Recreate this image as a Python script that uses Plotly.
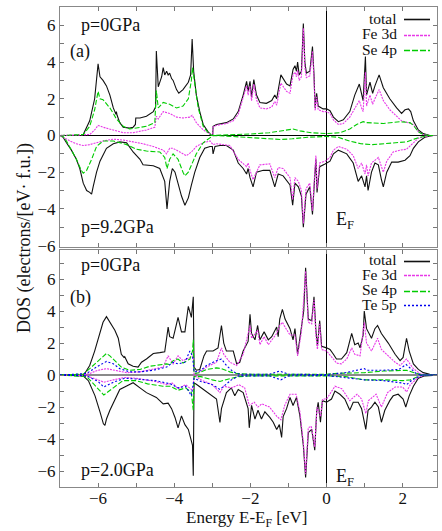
import plotly.graph_objects as go

# ---------------- data: (energy eV, DOS) pairs ----------------
# Panel (a)  p=0GPa (up) / p=9.2GPa (down)
a_total_up = [(-7.0,0),(-6.44,0),(-6.39,0.05),(-6.22,0.8),(-6.09,2.0),(-6.02,3.4),(-6.0,3.9),(-5.95,3.2),(-5.87,3.0),
    (-5.78,2.7),(-5.69,2.2),(-5.6,1.5),(-5.53,1.15),(-5.52,1.3),(-5.5,1.1),(-5.43,0.7),(-5.34,0.45),(-5.17,0.4),(-5.08,0.45),
    (-5.02,0.6),(-5.01,0.95),(-4.9,0.95),(-4.73,1.05),(-4.55,1.3),(-4.49,1.55),(-4.47,4.6),(-4.42,2.65),(-4.33,3.2),(-4.29,3.7),
    (-4.25,3.3),(-4.2,3.5),(-4.16,3.3),(-4.12,3.4),(-4.07,3.1),(-4.03,3.0),(-3.94,2.5),(-3.88,2.3),(-3.77,2.5),(-3.63,2.9),
    (-3.57,3.3),(-3.53,5.25),(-3.49,3.5),(-3.42,2.2),(-3.33,1.3),(-3.24,0.6),(-3.11,0.2),(-3.02,0.0),(-2.99,0.0),(-2.98,0.5),
    (-2.89,0.6),(-2.63,0.7),(-2.45,0.9),(-2.32,1.3),(-2.19,2.2),(-2.1,2.95),(-2.06,2.4),(-2.01,2.95),(-1.97,2.1),(-1.91,3.05),
    (-1.84,2.2),(-1.75,1.8),(-1.58,1.75),(-1.44,1.9),(-1.36,2.2),(-1.31,2.0),(-1.2,3.3),(-1.05,2.8),(-0.96,2.7),(-0.88,3.6),
    (-0.83,3.8),(-0.79,3.5),(-0.76,4.0),(-0.72,3.3),(-0.66,3.5),(-0.61,6.1),(-0.57,4.0),(-0.53,3.4),(-0.44,3.5),(-0.37,4.85),
    (-0.33,3.3),(-0.3,1.5),(-0.26,2.3),(-0.22,1.6),(-0.09,1.45),(0.0,1.45),(0.09,1.35),(0.18,1.0),(0.31,0.75),(0.44,0.85),
    (0.61,1.3),(0.74,2.2),(0.86,2.8),(0.92,2.2),(0.96,1.9),(1.02,4.3),(1.05,2.2),(1.14,2.9),(1.21,2.3),(1.27,2.7),(1.38,3.3),
    (1.49,2.6),(1.66,2.0),(1.84,1.5),(1.97,1.2),(2.06,1.4),(2.15,1.45),(2.21,1.3),(2.28,0.8),(2.41,0.3),(2.54,0.1),(2.71,0.0),(3.0,0.0)]
a_fe_up = [(-7.0,0),(-6.39,0.05),(-6.22,0.05),(-6.09,0.3),(-6.0,0.55),(-5.87,0.45),(-5.69,0.35),(-5.52,0.25),(-5.34,0.15),
    (-5.08,0.15),(-4.73,0.3),(-4.51,0.45),(-4.47,1.05),(-4.42,0.9),(-4.29,1.3),(-4.12,1.2),(-3.94,1.0),(-3.77,0.95),(-3.59,1.0),
    (-3.53,1.1),(-3.42,0.7),(-3.24,0.3),(-3.06,0.05),(-2.99,0.0),(-2.98,0.45),(-2.89,0.55),(-2.63,0.65),(-2.45,0.8),(-2.32,1.15),
    (-2.19,2.0),(-2.1,2.7),(-2.06,2.2),(-2.01,2.7),(-1.97,1.9),(-1.91,2.8),(-1.84,1.95),(-1.75,1.5),(-1.58,1.45),(-1.44,1.55),
    (-1.36,1.85),(-1.31,1.65),(-1.2,2.85),(-1.05,2.4),(-0.96,2.3),(-0.88,3.3),(-0.83,3.45),(-0.79,3.2),(-0.76,3.55),(-0.72,3.0),
    (-0.66,3.2),(-0.61,5.85),(-0.57,3.7),(-0.53,3.15),(-0.44,3.25),(-0.37,4.6),(-0.33,3.1),(-0.3,1.35),(-0.26,2.1),(-0.22,1.4),
    (-0.09,1.3),(0.0,1.3),(0.09,1.2),(0.18,0.85),(0.31,0.6),(0.44,0.65),(0.61,1.0),(0.74,1.5),(0.86,1.9),(0.92,1.5),(0.96,1.3),
    (1.02,3.45),(1.05,1.6),(1.14,2.2),(1.21,1.7),(1.27,2.0),(1.38,2.5),(1.49,1.9),(1.66,1.4),(1.84,1.05),(1.97,0.8),(2.06,0.75),
    (2.15,0.7),(2.28,0.6),(2.41,0.2),(2.54,0.05),(2.71,0.0),(3.0,0.0)]
a_se_up = [(-7.0,0),(-6.39,0.05),(-6.22,0.5),(-6.09,1.4),(-6.0,2.4),(-5.95,2.0),(-5.87,1.95),(-5.78,1.75),(-5.69,1.5),(-5.6,1.2),
    (-5.52,0.9),(-5.43,0.7),(-5.34,0.5),(-5.17,0.35),(-4.99,0.4),(-4.73,0.5),(-4.51,0.7),(-4.47,2.45),(-4.42,1.5),(-4.29,1.8),
    (-4.12,1.7),(-3.94,1.5),(-3.77,1.6),(-3.63,2.0),(-3.55,3.0),(-3.52,3.7),(-3.46,2.8),(-3.37,1.5),(-3.24,0.5),(-3.11,0.15),
    (-3.02,0.0),(-2.5,0.03),(-2.0,0.08),(-1.5,0.15),(-1.14,0.25),(-0.88,0.35),(-0.7,0.25),(-0.4,0.15),(0.0,0.1),(0.35,0.15),
    (0.61,0.35),(0.79,0.6),(0.96,0.75),(1.05,0.7),(1.49,0.65),(1.75,0.7),(1.93,0.75),(2.19,0.7),(2.28,0.55),(2.41,0.2),(2.54,0.05),
    (2.71,0.0),(3.0,0.0)]
a_total_dn = [(-7.0,0),(-6.92,-0.1),(-6.83,-0.4),(-6.7,-0.8),(-6.57,-1.3),(-6.48,-1.8),(-6.39,-2.6),(-6.3,-3.0),(-6.22,-3.1),
    (-6.17,-3.2),(-6.13,-2.8),(-6.04,-2.0),(-5.95,-1.4),(-5.78,-0.7),(-5.6,-0.45),(-5.43,-0.35),(-5.25,-0.4),(-5.08,-0.9),(-4.9,-1.3),
    (-4.82,-1.6),(-4.55,-1.65),(-4.38,-1.8),(-4.25,-2.5),(-4.19,-4.0),(-4.12,-2.5),(-4.05,-1.8),(-3.98,-2.0),(-3.9,-2.6),(-3.81,-3.3),
    (-3.72,-3.8),(-3.63,-3.4),(-3.55,-2.7),(-3.46,-2.0),(-3.33,-1.2),(-3.2,-0.7),(-3.06,-0.6),(-3.0,-0.6),(-2.98,-1.0),(-2.93,-0.6),
    (-2.8,-0.55),(-2.63,-0.55),(-2.45,-0.8),(-2.32,-1.5),(-2.19,-1.8),(-2.1,-2.1),(-2.06,-1.8),(-2.01,-2.3),(-1.93,-2.8),(-1.84,-2.0),
    (-1.66,-1.9),(-1.49,-1.9),(-1.36,-2.8),(-1.27,-2.1),(-1.14,-2.2),(-0.96,-2.7),(-0.89,-3.8),(-0.83,-2.6),(-0.74,-2.8),(-0.66,-3.3),
    (-0.61,-5.0),(-0.54,-3.2),(-0.44,-2.8),(-0.37,-4.3),(-0.31,-2.2),(-0.28,-1.3),(-0.25,-3.1),(-0.18,-1.7),(-0.04,-1.55),(0.09,-1.4),
    (0.18,-1.0),(0.31,-0.8),(0.53,-1.0),(0.7,-1.5),(0.83,-2.5),(0.92,-2.2),(1.01,-2.8),(1.05,-2.2),(1.09,-3.0),(1.18,-2.0),(1.27,-1.5),
    (1.36,-1.6),(1.44,-2.4),(1.49,-2.8),(1.58,-2.0),(1.71,-1.45),(1.88,-1.45),(2.06,-1.35),(2.19,-1.1),(2.28,-0.7),(2.41,-0.35),
    (2.58,-0.1),(2.8,0.0),(3.0,0.0)]
a_fe_dn = [(-7.0,0),(-6.92,-0.1),(-6.74,-0.3),(-6.57,-0.45),(-6.39,-0.55),(-6.22,-0.5),(-6.04,-0.4),(-5.87,-0.3),(-5.6,-0.2),
    (-5.34,-0.25),(-5.08,-0.35),(-4.82,-0.45),(-4.55,-0.6),(-4.29,-0.8),(-4.2,-1.0),(-4.12,-0.7),(-4.03,-0.7),(-3.85,-0.9),(-3.68,-1.1),
    (-3.55,-0.9),(-3.42,-0.6),(-3.24,-0.4),(-3.06,-0.3),(-2.98,-0.5),(-2.89,-0.45),(-2.54,-0.55),(-2.32,-1.3),(-2.1,-1.7),(-2.06,-1.5),
    (-2.01,-1.9),(-1.93,-2.4),(-1.75,-1.6),(-1.49,-1.55),(-1.36,-2.3),(-1.27,-1.75),(-1.14,-1.8),(-0.96,-2.3),(-0.89,-3.5),(-0.83,-2.3),
    (-0.74,-2.5),(-0.66,-3.0),(-0.61,-4.8),(-0.54,-2.9),(-0.44,-2.6),(-0.37,-4.1),(-0.31,-2.0),(-0.28,-1.1),(-0.25,-2.9),(-0.18,-1.5),
    (-0.04,-1.4),(0.09,-1.2),(0.18,-0.8),(0.31,-0.6),(0.53,-0.75),(0.7,-1.1),(0.83,-1.8),(0.92,-1.5),(1.01,-2.1),(1.05,-1.6),(1.09,-2.2),
    (1.18,-1.5),(1.36,-1.2),(1.49,-2.0),(1.58,-1.4),(1.75,-0.9),(1.93,-0.8),(2.1,-0.75),(2.28,-0.4),(2.41,-0.15),(2.58,-0.05),(2.8,0.0),(3.0,0.0)]
a_se_dn = [(-7.0,0),(-6.92,-0.05),(-6.83,-0.3),(-6.7,-0.8),(-6.57,-1.3),(-6.44,-1.9),(-6.39,-2.05),(-6.3,-1.9),(-6.17,-1.3),
    (-6.04,-0.6),(-5.87,-0.3),(-5.6,-0.3),(-5.25,-0.5),(-4.99,-0.75),(-4.73,-0.85),(-4.38,-0.9),(-4.25,-1.2),(-4.19,-1.8),(-4.12,-1.3),
    (-4.03,-1.0),(-3.9,-1.3),(-3.77,-2.0),(-3.72,-2.2),(-3.63,-2.0),(-3.55,-1.6),(-3.42,-1.0),(-3.24,-0.4),(-3.06,-0.1),(-2.98,0.0),
    (-2.5,-0.05),(-2.0,-0.12),(-1.5,-0.2),(-1.2,-0.22),(-0.9,-0.18),(-0.5,-0.1),(0.0,-0.05),(0.3,-0.1),(0.6,-0.3),(0.9,-0.45),
    (1.2,-0.5),(1.5,-0.45),(1.8,-0.4),(2.1,-0.35),(2.3,-0.2),(2.45,-0.1),(2.7,0.0),(3.0,0.0)]

# Panel (b)  p=0GPa (up) / p=2.0GPa (down)
b_total_up = [(-7.0,0),(-6.39,0.0),(-6.35,0.1),(-6.22,0.6),(-6.09,1.5),(-5.95,2.6),(-5.87,3.3),(-5.78,3.65),(-5.69,3.3),(-5.56,2.8),
    (-5.47,2.3),(-5.39,1.3),(-5.32,1.1),(-5.3,1.15),(-5.21,0.7),(-5.08,0.55),(-4.95,0.5),(-4.86,0.8),(-4.73,1.0),(-4.55,1.35),
    (-4.38,1.4),(-4.25,1.45),(-4.2,2.3),(-4.16,3.0),(-4.12,2.4),(-4.03,2.3),(-3.98,2.8),(-3.9,3.6),(-3.81,2.7),(-3.72,2.7),(-3.63,4.3),
    (-3.55,3.6),(-3.5,4.9),(-3.48,0.5),(-3.42,0.3),(-3.33,0.35),(-3.22,1.2),(-3.15,1.5),(-2.98,1.5),(-2.85,1.7),(-2.76,3.1),(-2.7,2.0),
    (-2.63,1.5),(-2.45,1.5),(-2.36,0.7),(-2.28,0.8),(-2.19,1.5),(-2.06,2.1),(-2.01,3.8),(-1.97,2.6),(-1.88,2.2),(-1.81,3.1),(-1.75,2.2),
    (-1.64,2.7),(-1.53,2.2),(-1.44,2.4),(-1.31,3.0),(-1.27,2.4),(-1.23,3.5),(-1.16,4.1),(-1.09,3.5),(-0.96,2.9),(-0.88,2.2),(-0.83,2.9),
    (-0.76,1.3),(-0.66,3.0),(-0.6,4.0),(-0.55,6.7),(-0.48,3.5),(-0.39,3.4),(-0.33,4.9),(-0.28,2.8),(-0.24,1.8),(-0.18,3.4),(-0.13,1.8),
    (0.0,1.7),(0.09,1.6),(0.18,1.3),(0.26,1.0),(0.39,1.0),(0.53,1.4),(0.66,2.6),(0.74,1.9),(0.83,2.0),(0.88,1.7),(0.96,2.5),(0.99,4.0),
    (1.05,2.9),(1.18,2.3),(1.27,2.9),(1.34,3.1),(1.44,2.6),(1.62,2.0),(1.8,1.3),(1.93,0.9),(2.01,1.1),(2.1,2.3),(2.17,1.5),(2.28,0.7),
    (2.41,0.35),(2.54,0.15),(2.71,0.05),(3.0,0.0)]
b_fe_up = [(-7.0,0),(-6.39,0.0),(-6.22,0.1),(-6.0,0.3),(-5.78,0.4),(-5.52,0.3),(-5.25,0.15),(-4.9,0.2),(-4.55,0.35),(-4.29,0.5),
    (-4.2,1.0),(-4.16,1.2),(-4.03,0.7),(-3.9,1.2),(-3.77,0.9),(-3.59,1.1),(-3.5,1.2),(-3.48,0.05),(-3.33,0.2),(-3.15,0.5),(-2.89,0.8),
    (-2.76,1.7),(-2.7,1.3),(-2.54,0.8),(-2.36,0.6),(-2.19,1.3),(-2.01,3.1),(-1.97,2.3),(-1.81,2.8),(-1.75,1.9),(-1.64,2.4),(-1.53,1.9),
    (-1.31,2.6),(-1.23,3.1),(-1.16,3.3),(-1.09,3.0),(-0.96,2.5),(-0.83,2.5),(-0.76,1.2),(-0.66,2.7),(-0.55,6.5),(-0.48,3.3),(-0.39,3.2),
    (-0.33,4.7),(-0.28,2.5),(-0.24,1.6),(-0.18,3.2),(-0.13,1.6),(0.0,1.5),(0.18,1.0),(0.26,0.75),(0.39,0.7),(0.53,1.0),(0.66,1.7),
    (0.74,1.3),(0.88,1.2),(0.99,3.3),(1.05,2.0),(1.18,1.5),(1.34,2.3),(1.44,1.6),(1.62,1.2),(1.8,0.8),(1.93,0.6),(2.1,1.0),(2.28,0.4),
    (2.45,0.1),(2.63,0.0),(3.0,0.0)]
b_se_up = [(-7.0,0),(-6.39,0.05),(-6.22,0.4),(-5.95,1.0),(-5.78,1.35),(-5.69,1.2),(-5.56,0.9),(-5.39,0.5),(-5.17,0.3),(-4.9,0.35),
    (-4.64,0.55),(-4.38,0.65),(-4.2,0.7),(-4.12,0.65),(-4.03,0.9),(-3.9,1.0),(-3.77,0.75),(-3.59,1.0),(-3.52,1.5),(-3.5,2.2),(-3.48,0.1),
    (-3.33,0.15),(-3.15,0.35),(-2.89,0.45),(-2.76,0.4),(-2.54,0.2),(-2.36,0.1),(-2.0,0.05),(-1.0,0.05),(0.0,0.05),(0.2,0.1),(1.0,0.15),
    (1.5,0.25),(1.9,0.3),(2.1,0.3),(2.3,0.15),(2.5,0.0),(3.0,0.0)]
b_te_up = [(-7.0,0),(-6.3,0.1),(-6.04,0.5),(-5.78,0.85),(-5.6,0.7),(-5.43,0.4),(-5.17,0.2),(-4.9,0.2),(-4.55,0.3),(-4.2,0.5),
    (-4.03,0.8),(-3.9,0.7),(-3.72,0.8),(-3.59,1.5),(-3.52,1.2),(-3.48,0.2),(-3.33,0.25),(-3.15,0.6),(-2.89,0.9),(-2.76,1.0),(-2.63,0.6),
    (-2.45,0.2),(-2.28,0.05),(-1.5,0.05),(-1.23,0.25),(-1.0,0.05),(0.0,0.03),(0.5,0.15),(0.99,0.4),(1.05,0.3),(1.5,0.3),(1.9,0.35),
    (2.09,0.66),(2.2,0.4),(2.35,0.1),(2.5,0.0),(3.0,0.0)]
b_total_dn = [(-7.0,0),(-6.39,-0.05),(-6.25,-0.37),(-6.08,-1.3),(-5.95,-2.3),(-5.86,-3.05),(-5.82,-3.15),(-5.78,-2.75),(-5.69,-2.2),
    (-5.56,-1.5),(-5.43,-0.9),(-5.25,-0.68),(-5.08,-0.48),(-4.9,-0.8),(-4.73,-1.1),(-4.47,-1.4),(-4.29,-1.8),(-4.16,-1.76),(-4.07,-2.1),
    (-3.98,-2.65),(-3.9,-3.3),(-3.81,-2.55),(-3.72,-3.1),(-3.63,-3.4),(-3.59,-3.8),(-3.52,-4.4),(-3.5,-6.3),(-3.48,-0.5),(-3.42,-0.58),
    (-3.24,-0.9),(-3.06,-1.2),(-2.89,-1.5),(-2.8,-2.96),(-2.76,-2.1),(-2.63,-1.1),(-2.5,-0.8),(-2.41,-1.3),(-2.32,-0.9),(-2.19,-1.1),
    (-2.06,-2.1),(-2.03,-3.3),(-1.97,-1.9),(-1.88,-2.75),(-1.8,-2.2),(-1.71,-2.75),(-1.62,-2.3),(-1.49,-2.65),(-1.4,-2.95),(-1.31,-3.4),
    (-1.24,-3.1),(-1.18,-3.9),(-1.14,-2.6),(-1.05,-2.1),(-0.96,-1.4),(-0.88,-1.9),(-0.79,-1.4),(-0.7,-2.55),(-0.61,-4.4),(-0.55,-6.4),
    (-0.48,-3.6),(-0.39,-3.4),(-0.31,-4.7),(-0.26,-2.3),(-0.22,-1.7),(-0.16,-2.95),(-0.11,-1.6),(0.0,-1.7),(0.13,-1.5),(0.22,-1.0),
    (0.35,-1.2),(0.48,-1.5),(0.61,-2.2),(0.7,-1.7),(0.83,-1.7),(0.92,-2.1),(1.03,-3.4),(1.09,-2.2),(1.18,-2.0),(1.27,-1.7),(1.36,-2.0),
    (1.44,-2.95),(1.53,-2.2),(1.66,-1.6),(1.75,-1.3),(1.88,-1.2),(2.01,-1.5),(2.08,-2.0),(2.17,-1.3),(2.28,-0.7),(2.41,-0.2),(2.58,-0.05),(3.0,0.0)]
b_fe_dn = [(-7.0,0),(-6.3,-0.05),(-6.0,-0.3),(-5.85,-0.45),(-5.6,-0.3),(-5.3,-0.15),(-5.0,-0.2),(-4.5,-0.4),(-4.2,-0.6),(-4.05,-0.5),
    (-3.9,-0.85),(-3.7,-0.6),(-3.55,-0.9),(-3.5,-1.0),(-3.48,0.0),(-3.3,-0.3),(-3.0,-0.6),(-2.8,-1.1),(-2.7,-0.7),(-2.5,-0.8),(-2.3,-0.6),
    (-2.15,-0.8),(-2.03,-1.9),(-1.9,-1.7),(-1.8,-2.0),(-1.7,-1.8),(-1.5,-2.0),(-1.3,-2.6),(-1.2,-2.8),(-1.1,-1.9),(-0.96,-1.2),(-0.8,-1.2),
    (-0.7,-2.3),(-0.61,-4.2),(-0.55,-6.2),(-0.48,-3.3),(-0.4,-3.2),(-0.31,-4.5),(-0.25,-2.0),(-0.16,-2.6),(-0.1,-1.5),(0.0,-1.5),
    (0.22,-0.7),(0.4,-0.85),(0.61,-1.6),(0.8,-1.2),(0.92,-1.5),(1.03,-2.4),(1.1,-1.6),(1.2,-1.4),(1.3,-1.2),(1.44,-2.0),(1.6,-1.1),
    (1.8,-0.75),(2.0,-0.75),(2.1,-1.05),(2.2,-0.6),(2.4,-0.15),(2.6,0.0),(3.0,0.0)]
b_se_dn = [(-7.0,0),(-6.3,-0.1),(-6.1,-0.6),(-5.85,-1.25),(-5.6,-0.8),(-5.35,-0.35),(-5.0,-0.35),(-4.7,-0.55),(-4.3,-0.7),(-4.1,-0.7),
    (-3.9,-0.95),(-3.7,-0.8),(-3.55,-1.1),(-3.5,-2.2),(-3.48,-0.1),(-3.3,-0.1),(-3.0,-0.3),(-2.8,-0.4),(-2.5,-0.2),(-2.3,-0.1),(-2.0,-0.05),
    (0.0,-0.05),(0.5,-0.1),(1.0,-0.3),(1.5,-0.3),(2.0,-0.35),(2.2,-0.3),(2.5,0.0),(3.0,0.0)]
b_te_dn = [(-7.0,0),(-6.3,-0.05),(-6.0,-0.4),(-5.85,-0.75),(-5.6,-0.45),(-5.3,-0.2),(-5.0,-0.25),(-4.5,-0.35),(-4.1,-0.55),(-3.9,-0.8),
    (-3.7,-0.7),(-3.55,-1.3),(-3.48,-0.2),(-3.3,-0.4),(-3.0,-0.6),(-2.8,-0.9),(-2.7,-0.7),(-2.5,-0.3),(-2.3,-0.05),(-1.5,-0.05),(-1.2,-0.3),
    (-1.0,-0.05),(0.0,-0.03),(0.5,-0.15),(1.0,-0.3),(1.5,-0.35),(2.0,-0.5),(2.1,-0.6),(2.25,-0.3),(2.5,0.0),(3.0,0.0)]

y_tick_vals = [-6, -4, -2, 0, 2, 4, 6]
x_tick_vals = [-6, -4, -2, 0, 2]
legend_a = ["total", "Fe 3d", "Se 4p"]
legend_b = ["total", "Fe 3d", "Se 4p", "Te 5p"]

# ---------------- styles ----------------
FONT = "Liberation Serif, Times New Roman, serif"
STY = {
    "total": dict(color="#111111", width=1.1, dash="solid"),
    "Fe 3d": dict(color="#e838e8", width=1.1, dash="2px,1px"),
    "Se 4p": dict(color="#00cc00", width=1.1, dash="5px,2px"),
    "Te 5p": dict(color="#0000ee", width=1.1, dash="2px,2px"),
}

def xy(pairs):
    return [p[0] for p in pairs], [p[1] for p in pairs]

fig = go.Figure()

def add(pairs, name, xa, ya):
    x, y = xy(pairs)
    fig.add_trace(go.Scatter(x=x, y=y, mode="lines", line=STY[name], xaxis=xa, yaxis=ya,
                             showlegend=False, name=name, hoverinfo="skip"))

for pairs, name in [(a_total_up, "total"), (a_total_dn, "total"), (a_fe_up, "Fe 3d"), (a_fe_dn, "Fe 3d"),
                    (a_se_up, "Se 4p"), (a_se_dn, "Se 4p")]:
    add(pairs, name, "x", "y")
for pairs, name in [(b_total_up, "total"), (b_total_dn, "total"), (b_fe_up, "Fe 3d"), (b_fe_dn, "Fe 3d"),
                    (b_se_up, "Se 4p"), (b_se_dn, "Se 4p"), (b_te_up, "Te 5p"), (b_te_dn, "Te 5p")]:
    add(pairs, name, "x2", "y2")

# ---------------- layout ----------------
W, H = 442, 531
ML, MR, MT, MB = 60, 5, 7, 44
PW, PH = W - ML - MR, H - MT - MB

def px2paper(px, py):
    return (px - ML) / PW, (H - MB - py) / PH

frame = dict(showline=True, linecolor="#888888", linewidth=1, mirror="allticks", ticks="inside",
             ticklen=4, tickcolor="#777777", showgrid=False,
             tickfont=dict(family=FONT, size=17, color="#111111"))
minor = dict(ticks="inside", ticklen=4, tickcolor="#777777", dtick=1, showgrid=False)

a_bot = (H - MB - 246.5) / PH
b_top = (H - MB - 249.5) / PH

fig.update_layout(
    width=W, height=H, margin=dict(l=ML, r=MR, t=MT, b=MB),
    paper_bgcolor="white", plot_bgcolor="white", showlegend=False,
    font=dict(family=FONT, size=17, color="#111111"),
    xaxis=dict(domain=[0, 1], anchor="y", range=[-7, 2.9], tickvals=x_tick_vals, showticklabels=False,
               zeroline=True, zerolinecolor="#000000", zerolinewidth=1.3, minor=minor, **frame),
    yaxis=dict(domain=[a_bot, 1], anchor="x", range=[-6.05, 7.0], tickvals=y_tick_vals,
               zeroline=True, zerolinecolor="#000000", zerolinewidth=1, minor=minor, **frame),
    xaxis2=dict(domain=[0, 1], anchor="y2", range=[-7, 2.9], tickvals=x_tick_vals, matches="x",
                ticklabelstandoff=-4,
                zeroline=True, zerolinecolor="#000000", zerolinewidth=1.3, minor=minor, **frame),
    yaxis2=dict(domain=[0, b_top], anchor="x2", range=[-7.0, 7.85], tickvals=y_tick_vals,
                zeroline=True, zerolinecolor="#8a8a8a", zerolinewidth=2.2, minor=minor, **frame),
)

ann = []
def text(t, px, py, size=18, xanchor="left", **kw):
    x, y = px2paper(px, py)
    ann.append(dict(text=t, x=x, y=y, xref="paper", yref="paper", xanchor=xanchor, yanchor="middle",
                    showarrow=False, font=dict(family=FONT, size=size, color="#111111"), **kw))

# panel labels
text("p=0GPa", 79, 25)
text("(a)", 68, 51)
text("p=9.2GPa", 79, 227)
text("E<sub>F</sub>", 334, 220)
text("p=0GPa", 79, 265)
text("(b)", 68, 297)
text("p=2.0GPa", 79, 470)
text("E<sub>F</sub>", 334, 477)

# axis titles
text("DOS (electrons/[eV· f.u.])", 25, 238, size=18, xanchor="center", textangle=-90)
text("Energy E-E<sub>F</sub> [eV]", 247, 519, size=17, xanchor="center")

# gnuplot-style keys (text right, sample line on the right)
shapes = []
def key(names, rows):
    for name, py in zip(names, rows):
        text(name, 399, py, size=15.5, xanchor="right")
        x0, y0 = px2paper(404, round(py) + 1.5)
        x1, _ = px2paper(430, round(py) + 1.5)
        s = STY[name]
        dash = {"total": "solid", "Fe 3d": "3px,1px", "Se 4p": "6px,2px", "Te 5p": "2px,2px"}[name]
        shapes.append(dict(type="line", xref="paper", yref="paper", x0=x0, x1=x1, y0=y0, y1=y0, layer="above",
                           line=dict(color=s["color"], width=1.6, dash=dash)))

key(legend_a, [18, 33.5, 49])
key(legend_b, [259.5, 274.5, 289.5, 304.5])

fig.update_layout(annotations=ann, shapes=shapes)
fig.write_html("out.html", config={"displayModeBar": False},
               post_script="document.body.style.margin='0px';document.body.style.overflow='hidden';")
